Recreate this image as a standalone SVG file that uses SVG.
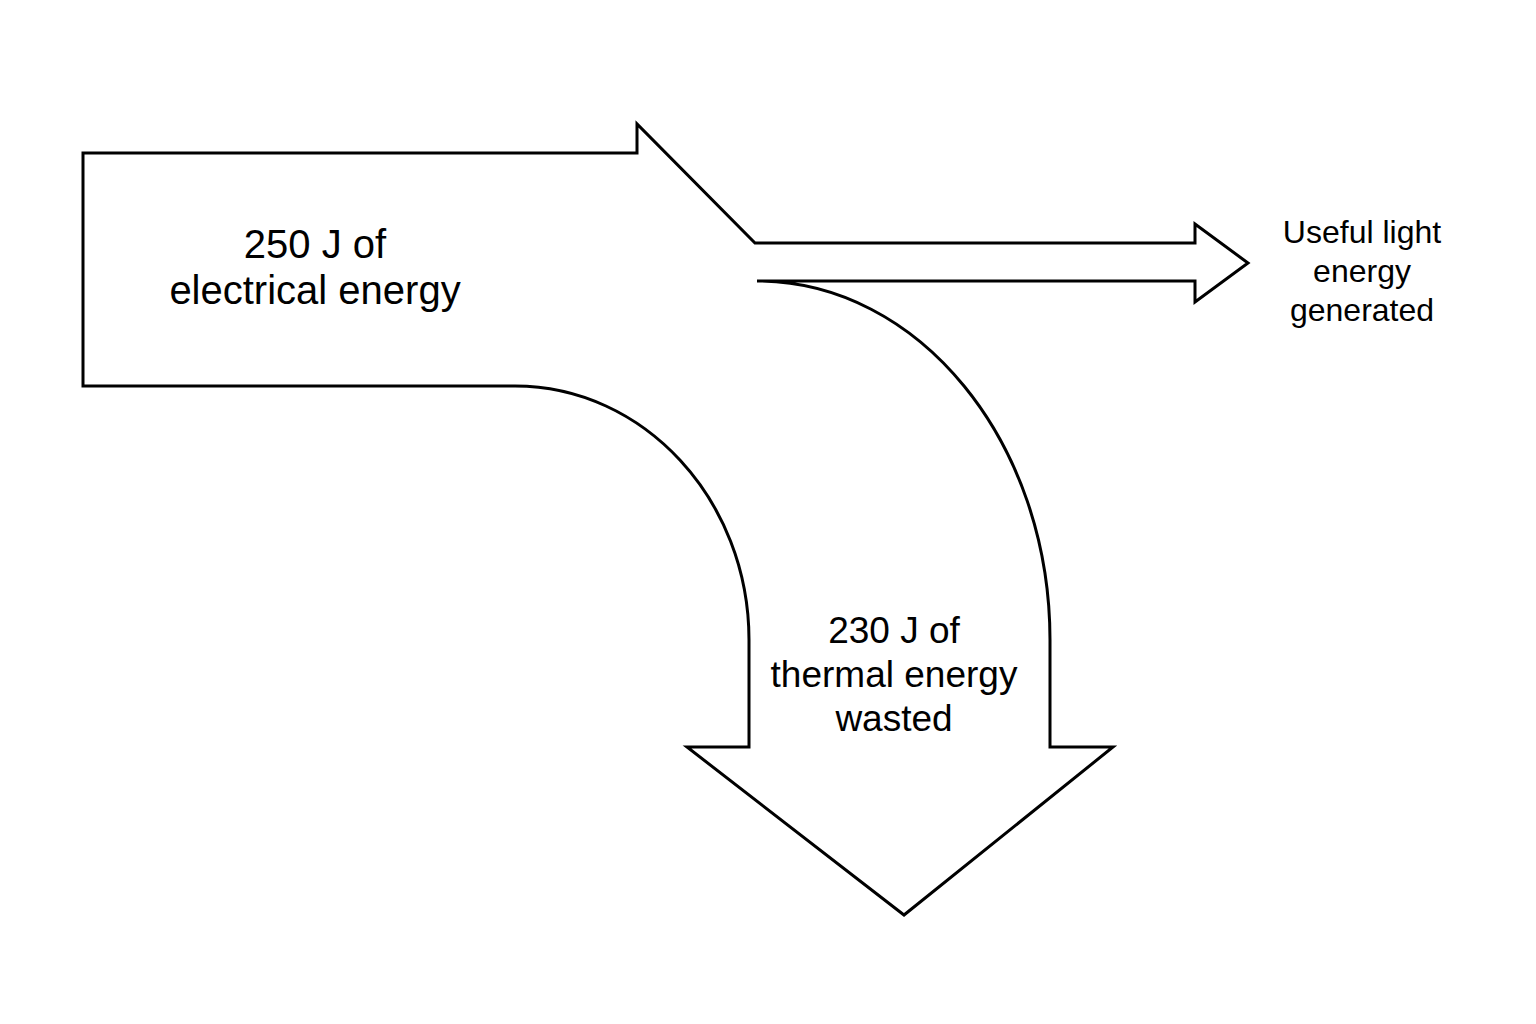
<svg xmlns="http://www.w3.org/2000/svg" width="1536" height="1024" viewBox="0 0 1536 1024">
<style>
.outline{fill:#ffffff;stroke:#000000;stroke-width:3;stroke-linejoin:miter}
.lbl{font-family:"Liberation Sans",Arial,Helvetica,sans-serif;fill:#000000;text-anchor:middle}
</style>
<rect width="1536" height="1024" fill="#ffffff"/>
<g id="connectors">
<path class="outline" d="M83,153 H637 V124 L755,243 H1195 V224 L1248,263 L1195,302 V281 H757 C919,281 1050,442 1050,640 V747 H1113 L904,915 L687,747 H749 V640 C749,500 644,386 515,386 H83 Z"/>
</g>
<g id="input">
<text class="lbl" font-size="40" x="315" y="258">250 J of</text>
<text class="lbl" font-size="40" x="315" y="304">electrical energy</text>
</g>
<g id="useful">
<text class="lbl" font-size="32" x="1362" y="243">Useful light</text>
<text class="lbl" font-size="32" x="1362" y="282">energy</text>
<text class="lbl" font-size="32" x="1362" y="321">generated</text>
</g>
<g id="wasted">
<text class="lbl" font-size="37" x="894" y="643">230 J of</text>
<text class="lbl" font-size="37" x="894" y="687">thermal energy</text>
<text class="lbl" font-size="37" x="894" y="731">wasted</text>
</g>
</svg>
